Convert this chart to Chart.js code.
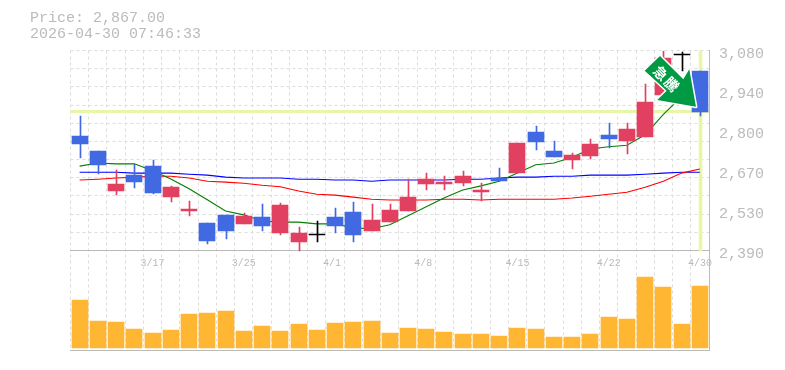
<!DOCTYPE html>
<html>
<head>
<meta charset="utf-8">
<style>
  body { margin: 0; background: #fff; }
  #wrap { position: relative; width: 785px; height: 370px; }
  #head { position: absolute; left: 30px; top: 11px; font: 15px/15.5px "Liberation Mono", monospace; color: #bbb; white-space: pre; }
</style>
<script src="https://cdn.jsdelivr.net/npm/chart.js@4"></script>
</head>
<body>
<div id="wrap">
  <div id="head">Price: 2,867.00
2026-04-30 07:46:33</div>
  <canvas id="chart" width="785" height="370"></canvas>
</div>
<script>
const dates = ['3/11','3/12','3/13','3/16','3/17','3/18','3/19','3/23','3/24','3/25','3/26','3/27','3/30','3/31','4/1','4/2','4/3','4/6','4/7','4/8','4/9','4/10','4/13','4/14','4/15','4/16','4/17','4/20','4/21','4/22','4/23','4/24','4/27','4/28','4/30'];
const dateTicks = ['3/17','3/25','4/1','4/8','4/15','4/22','4/30'];

const opens  = [2786,2734,2596,2651,2682,2575,2527,2485,2513,2482,2506,2451,2420,2444,2506,2523,2458,2489,2527,2620,2620,2623,2592,2641,2658,2799,2734,2703,2717,2789,2768,2782,2927,3065,3010];
const closes = [2758,2686,2620,2627,2589,2610,2534,2423,2458,2510,2475,2548,2451,2443,2475,2444,2496,2530,2575,2637,2627,2648,2599,2630,2761,2765,2713,2720,2758,2775,2810,2903,3055,3064,2867];
const highs  = [2855,2734,2668,2689,2703,2613,2561,2485,2513,2520,2551,2554,2472,2492,2537,2558,2551,2551,2637,2658,2648,2665,2623,2675,2761,2820,2768,2727,2775,2830,2830,2965,3079,3075,3010];
const lows   = [2710,2654,2582,2606,2586,2558,2510,2413,2430,2482,2458,2444,2390,2420,2451,2420,2458,2489,2527,2599,2599,2613,2561,2630,2658,2737,2713,2672,2706,2744,2723,2782,2927,3010,2855];

const maShort = [2681,2692,2689,2689,2665,2637,2603,2565,2526,2513,2492,2488,2488,2482,2482,2468,2465,2479,2510,2541,2572,2599,2613,2629,2657,2686,2692,2712,2740,2748,2753,2789,2860,2921,2941];
const maMid   = [2633,2636,2640,2643,2646,2646,2640,2629,2626,2622,2615,2610,2595,2584,2581,2574,2567,2564,2564,2564,2567,2567,2564,2567,2567,2567,2567,2571,2577,2584,2591,2608,2629,2657,2671];
const maLong  = [2660,2660,2660,2657,2657,2657,2653,2650,2643,2640,2640,2640,2636,2636,2633,2633,2629,2633,2633,2633,2633,2636,2636,2640,2643,2643,2646,2646,2650,2650,2650,2653,2657,2660,2660];

const volumes = [48,27,26,19,15,18,34,35,37,17,22,17,24,18,25,26,27,15,20,19,16,14,14,12,20,19,11,11,14,31,29,71,61,24,62];

const priceLine = 2869;
const priceTicks = [3080,2942,2804,2666,2528,2390];
const priceLabels = ['3,080','2,940','2,800','2,670','2,530','2,390'];
const gridPrices = [3080,3017.3,2954.5,2891.8,2829.1,2766.4,2703.6,2640.9,2578.2,2515.5,2452.7,2390];
const arrowText = ['急','騰'];

const BLUE = '#4169e1', RED = '#e24060', BLACK = '#000', GREY = '#bbb', GRID = '#ddd', LIME = '#e6f7a8';
const MONO = '"Liberation Mono", monospace';

function candleColor(i) {
  if (Math.abs(opens[i] - closes[i]) < 3) return BLACK;
  return closes[i] < opens[i] ? BLUE : RED;
}
const colors = dates.map((d, i) => candleColor(i));

function lineSet(data, color, order) {
  return { type: 'line', data, borderColor: color, borderWidth: 1.1, pointRadius: 0, tension: 0, yAxisID: 'y', order };
}

// the reference has crisp bars, so snap them to whole pixels
const snapPlugin = {
  id: 'snap',
  afterDatasetsUpdate(chart) {
    chart.getSortedVisibleDatasetMetas().forEach(meta => {
      if (meta.type !== 'bar') return;
      meta.data.forEach(el => {
        if (el.skip) return;
        el.x = el.width % 2 ? Math.round(el.x) + 0.5 : Math.round(el.x);
        const top = Math.round(Math.min(el.y, el.base));
        let bottom = Math.round(Math.max(el.y, el.base));
        if (bottom === top) bottom = top + 1;
        el.y = top;
        el.base = bottom;
        el.height = bottom - top;
      });
    });
  }
};

// green arrow on top of the last candles, placed from the scales
const arrowPlugin = {
  id: 'arrow',
  afterDatasetsDraw(chart) {
    const { ctx, scales } = chart;
    const tipX = scales.x.getPixelForValue(dates.length - 1) - 3.9;
    const tipY = scales.y.getPixelForValue(priceLine) - 5;
    const shape = [[0,0],[-38.7,-6.7],[-29.3,-16],[-51.3,-36],[-36,-50.7],[-12.7,-27.4],[-6.7,-37.4]];
    ctx.save();
    ctx.beginPath();
    shape.forEach(([dx, dy], i) => i ? ctx.lineTo(tipX + dx, tipY + dy) : ctx.moveTo(tipX + dx, tipY + dy));
    ctx.closePath();
    ctx.lineJoin = 'round';
    ctx.strokeStyle = '#fff';
    ctx.lineWidth = 3;
    ctx.stroke();
    ctx.fillStyle = '#009944';
    ctx.fill();
    ctx.translate(tipX - 29.8, tipY - 27.9);
    ctx.rotate(Math.PI / 4);
    ctx.fillStyle = '#fff';
    ctx.font = 'bold 14px "Noto Sans CJK JP"';
    ctx.textAlign = 'center';
    ctx.textBaseline = 'middle';
    ctx.fillText(arrowText[0], -7.8, 0);
    ctx.fillText(arrowText[1], 7.8, 0);
    ctx.restore();
  }
};

new Chart(document.getElementById('chart'), {
  type: 'bar',
  data: {
    labels: dates,
    datasets: [
      { data: dates.map((d, i) => i === dates.length - 1 ? [priceTicks[5], priceTicks[0]] : null),
        backgroundColor: LIME, barThickness: 3, grouped: false, yAxisID: 'y', order: 9 },
      { data: volumes, backgroundColor: '#ffb733', barThickness: 16, grouped: false, yAxisID: 'v', order: 8 },
      lineSet(maLong, '#0000ff', 7),
      lineSet(maMid, '#ff0000', 6),
      lineSet(maShort, '#008000', 5),
      { data: dates.map((d, i) => [lows[i], highs[i]]), backgroundColor: colors, barThickness: 1, grouped: false, yAxisID: 'y', order: 4 },
      { data: dates.map((d, i) => [opens[i], closes[i]]), backgroundColor: colors, barThickness: 16, minBarLength: 1, grouped: false, yAxisID: 'y', order: 3 }
    ]
  },
  options: {
    responsive: false,
    animation: false,
    layout: { padding: { left: 70.5, top: 50.5, bottom: 19.5, right: 0 } },
    plugins: { legend: { display: false }, tooltip: { enabled: false } },
    scales: {
      x: {
        type: 'category',
        position: { y: 2390 },
        offset: true,
        grid: { offset: true, color: GRID, drawTicks: false },
        border: { color: GREY, dash: [3, 3] },
        ticks: {
          autoSkip: false, maxRotation: 0, padding: 7, color: GREY,
          font: { family: MONO, size: 10 },
          // short labels sit left, like the four character ones
          callback(v) { const d = dates[v]; return dateTicks.includes(d) ? d.padEnd(4) : ''; }
        }
      },
      x2: {
        type: 'category',
        position: 'bottom',
        grid: { display: false, drawTicks: false },
        border: { color: GREY },
        ticks: { display: false }
      },
      y: {
        position: 'right',
        min: 2045,
        max: 3080,
        afterFit(s) { s.width = 76; },
        afterBuildTicks(s) {
          const vals = [...new Set([...gridPrices, ...priceTicks, priceLine])].sort((a, b) => b - a);
          s.ticks = vals.map(value => ({ value }));
        },
        grid: {
          drawTicks: false,
          color: c => c.tick && c.tick.value === priceLine ? LIME : (c.tick && gridPrices.includes(c.tick.value) ? GRID : 'transparent'),
          lineWidth: c => c.tick && c.tick.value === priceLine ? 3 : 1
        },
        border: { color: GREY, dash: c => c.tick && c.tick.value === priceLine ? [] : [3, 3] },
        ticks: {
          autoSkip: false, padding: 10, labelOffset: 3.2, color: GREY,
          font: { family: MONO, size: 15 },
          callback(v) { const i = priceTicks.indexOf(v); return i < 0 ? '' : priceLabels[i]; }
        }
      },
      v: {
        display: false,
        min: -2.5,
        max: 297.5
      }
    }
  },
  plugins: [snapPlugin, arrowPlugin]
});
</script>
</body>
</html>
